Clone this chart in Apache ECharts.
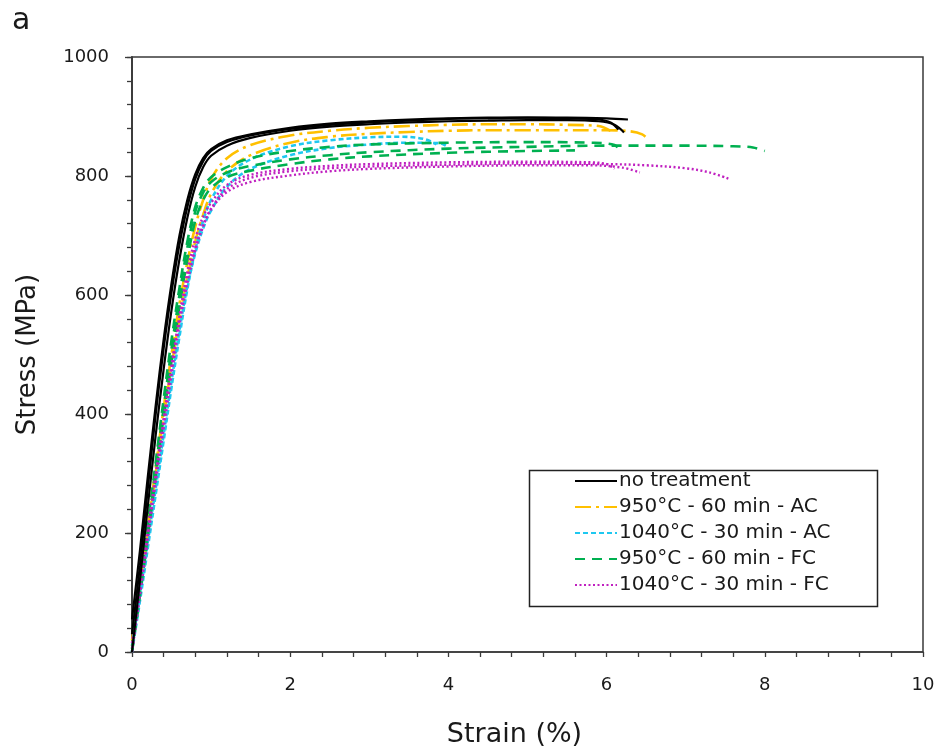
<!DOCTYPE html>
<html>
<head>
<meta charset="utf-8">
<script src="https://cdn.jsdelivr.net/npm/echarts@6/dist/echarts.min.js"></script>
<style>
html,body{margin:0;padding:0;background:#fff;}
#chart{width:938px;height:755px;}
</style>
</head>
<body>
<div id="chart"></div>
<script>
// ---- Data (strain %, stress MPa) ----
const xTicks = [0, 2, 4, 6, 8, 10];
const yTicks = [0, 200, 400, 600, 800, 1000];
const groupNames = ['no treatment', '950°C - 60 min - AC', '1040°C - 30 min - AC', '950°C - 60 min - FC', '1040°C - 30 min - FC'];

const noTreatA = [[0,30],[0.1,145],[0.2,275],[0.3,400],[0.4,510],[0.5,605],[0.6,685],[0.7,748],[0.8,795],[0.9,825],[1.0,842],[1.2,857],[1.5,868],[2.0,879],[2.5,886],[3.0,890],[3.5,893],[4.0,896],[4.5,897],[5.0,898],[5.5,898],[6.0,897],[6.27,895]];
const noTreatB = [[0,0],[0.1,120],[0.2,245],[0.3,365],[0.4,475],[0.5,575],[0.6,660],[0.7,730],[0.8,782],[0.9,815],[1.0,834],[1.2,851],[1.5,864],[2.0,876],[2.5,883],[3.0,887],[3.5,890],[4.0,892],[4.5,893],[5.0,894],[5.5,894],[5.9,892],[6.1,886],[6.22,873]];
const noTreatC = [[0,55],[0.1,170],[0.2,295],[0.3,415],[0.4,525],[0.5,620],[0.6,700],[0.7,760],[0.8,803],[0.9,830],[1.0,845],[1.2,860],[1.5,870],[2.0,881],[2.5,888],[3.0,892],[3.5,895],[4.0,897],[4.5,898],[5.0,898],[5.5,897],[5.9,895],[6.05,890],[6.15,878]];

const ac950A = [[0,10],[0.1,100],[0.2,200],[0.3,300],[0.4,395],[0.5,480],[0.6,560],[0.7,630],[0.8,690],[0.9,735],[1.0,770],[1.2,808],[1.5,835],[2.0,856],[2.5,866],[3.0,871],[3.5,874],[4.0,876],[4.5,877],[5.0,877],[5.5,877],[6.0,877],[6.3,875],[6.45,870],[6.52,862]];
const ac950B = [[0,20],[0.1,110],[0.2,210],[0.3,310],[0.4,410],[0.5,500],[0.6,585],[0.7,655],[0.8,715],[0.9,760],[1.0,795],[1.2,830],[1.5,852],[2.0,868],[2.5,876],[3.0,881],[3.5,884],[4.0,886],[4.5,887],[5.0,887],[5.5,886],[5.9,884],[6.05,876]];

const ac1040A = [[0,0],[0.1,85],[0.2,175],[0.3,265],[0.4,355],[0.5,445],[0.6,530],[0.7,610],[0.8,675],[0.9,725],[1.0,760],[1.2,800],[1.5,828],[2.0,850],[2.5,860],[3.0,865],[3.4,866],[3.7,862],[3.85,853]];
const ac1040B = [[0,10],[0.1,95],[0.2,185],[0.3,275],[0.4,365],[0.5,455],[0.6,540],[0.7,615],[0.8,670],[0.9,712],[1.0,742],[1.2,782],[1.5,812],[2.0,835],[2.5,847],[3.0,853],[3.5,856],[3.9,855],[4.0,848]];

const fc950A = [[0,0],[0.1,100],[0.2,205],[0.3,310],[0.4,410],[0.5,510],[0.6,600],[0.7,680],[0.8,740],[0.9,772],[1.0,790],[1.2,806],[1.5,817],[2.0,828],[2.5,835],[3.0,840],[4.0,846],[5.0,849],[6.0,851],[7.0,851],[7.6,850],[7.85,848],[8.0,842]];
const fc950B = [[0,5],[0.1,110],[0.2,215],[0.3,320],[0.4,425],[0.5,525],[0.6,612],[0.7,690],[0.8,748],[0.9,780],[1.0,798],[1.2,815],[1.5,830],[2.0,842],[2.5,849],[3.0,853],[4.0,856],[5.0,857],[5.8,856],[6.1,852],[6.18,840]];
const fc950C = [[0,0],[0.1,95],[0.2,195],[0.3,295],[0.4,395],[0.5,490],[0.6,580],[0.7,660],[0.8,725],[0.9,760],[1.0,780],[1.2,798],[1.5,809],[2.0,820],[2.5,828],[3.0,833],[4.0,839],[5.0,842],[5.6,843]];

const fc1040A = [[0,0],[0.1,95],[0.2,190],[0.3,285],[0.4,375],[0.5,465],[0.6,550],[0.7,620],[0.8,675],[0.9,715],[1.0,745],[1.2,778],[1.5,797],[2.0,808],[2.5,813],[3.0,816],[4.0,819],[5.0,821],[6.0,820],[6.5,818],[7.0,813],[7.3,806],[7.55,795]];
const fc1040B = [[0,15],[0.1,110],[0.2,205],[0.3,300],[0.4,390],[0.5,480],[0.6,560],[0.7,628],[0.8,680],[0.9,718],[1.0,744],[1.2,773],[1.5,790],[2.0,801],[2.5,808],[3.0,812],[4.0,816],[5.0,818],[5.8,818],[6.2,814],[6.42,806]];
const fc1040C = [[0,0],[0.1,100],[0.2,200],[0.3,295],[0.4,390],[0.5,480],[0.6,565],[0.7,640],[0.8,695],[0.9,732],[1.0,755],[1.2,785],[1.5,802],[2.0,812],[2.5,817],[3.0,820],[4.0,823],[5.0,824],[5.8,823],[6.0,820],[6.1,812]];

// ---- Styles ----
const styles = {
  'no treatment': {color:'#000000', type:'solid', width:2.2},
  '950°C - 60 min - AC': {color:'#FFC000', type:[16,5,3,5], width:2.6},
  '1040°C - 30 min - AC': {color:'#1EC8F0', type:[5,3], width:2.6},
  '950°C - 60 min - FC': {color:'#00B050', type:[10,7], width:2.6},
  '1040°C - 30 min - FC': {color:'#C020C0', type:[2,2.5], width:2.4}
};

const curves = [
  [groupNames[0], noTreatA], [groupNames[0], noTreatB], [groupNames[0], noTreatC],
  [groupNames[1], ac950A], [groupNames[1], ac950B],
  [groupNames[2], ac1040A], [groupNames[2], ac1040B],
  [groupNames[3], fc950A], [groupNames[3], fc950B], [groupNames[3], fc950C],
  [groupNames[4], fc1040A], [groupNames[4], fc1040B], [groupNames[4], fc1040C]
];

const series = curves.map(([name, data]) => {
  const s = styles[name];
  return {
    name: name, type: 'line', data: data, symbol: 'none', smooth: 0.35,
    color: s.color,
    lineStyle: {color: s.color, type: s.type, width: s.width},
    z: name === 'no treatment' ? 5 : 3
  };
});

const FONT = '"DejaVu Sans", sans-serif';
const axisCol = '#3a3a3a';

const chart = echarts.init(document.getElementById('chart'), null, {renderer:'canvas'});
chart.setOption({
  animation: false,
  backgroundColor: '#ffffff',
  grid: {left: 132, right: 15, top: 57, bottom: 103, containLabel: false, show: true, borderColor: axisCol, borderWidth: 1.5},
  xAxis: [{
    type: 'value', min: 0, max: 10, interval: 2,
    axisLine: {show: true, onZero: false, lineStyle: {color: axisCol, width: 1.5}},
    axisTick: {show: true, inside: false, length: 5, lineStyle: {color: axisCol, width: 1.3}},
    minorTick: {show: true, splitNumber: 5, length: 5, lineStyle: {color: axisCol, width: 1.3}},
    splitLine: {show: false},
    axisLabel: {color: '#1a1a1a', fontSize: 18, fontFamily: FONT, margin: 24,
      formatter: v => xTicks.includes(v) ? String(v) : ''},
    name: 'Strain (%)', nameLocation: 'middle', nameGap: 69,
    nameTextStyle: {color: '#1a1a1a', fontSize: 27, fontFamily: FONT, padding: [0, 26, 0, 0]}
  }],
  yAxis: [{
    type: 'value', min: 0, max: 1000, interval: 200,
    axisLine: {show: true, onZero: false, lineStyle: {color: axisCol, width: 1.5}},
    axisTick: {show: true, inside: false, length: 5, lineStyle: {color: axisCol, width: 1.3}},
    minorTick: {show: true, splitNumber: 5, length: 5, lineStyle: {color: axisCol, width: 1.3}},
    splitLine: {show: false},
    axisLabel: {color: '#1a1a1a', fontSize: 18, fontFamily: FONT, margin: 23,
      formatter: v => yTicks.includes(v) ? String(v) : ''},
    name: 'Stress (MPa)', nameLocation: 'middle', nameGap: 91,
    nameTextStyle: {color: '#1a1a1a', fontSize: 26, fontFamily: FONT, padding: [0, 0, 0, 0]}
  }, {
    type: 'value', min: 0, max: 1000, interval: 200, position: 'right',
    axisLine: {show: true, lineStyle: {color: axisCol, width: 1.5}},
    axisTick: {show: true, inside: true, length: 7, lineStyle: {color: axisCol, width: 1.3}},
    axisLabel: {show: false}, splitLine: {show: false}
  }],
  legend: {
    orient: 'vertical', left: 574, top: 471,
    data: groupNames,
    itemWidth: 42, itemHeight: 16, itemGap: 6,
    padding: 0,
    selectedMode: false,
    itemStyle: {opacity: 0},
    textStyle: {color: '#1a1a1a', fontSize: 20, fontFamily: FONT, padding: [0,0,0,-3]}
  },
  graphic: [
    {type: 'rect', left: 527, top: 468, shape: {width: 348, height: 136},
     style: {fill: 'none', stroke: '#222', lineWidth: 1.5}, z: 100},
    {type: 'text', left: 12, top: 6, style: {text: 'a', fill: '#1a1a1a', font: '30px ' + FONT}}
  ],
  series: series
});
</script>
</body>
</html>
